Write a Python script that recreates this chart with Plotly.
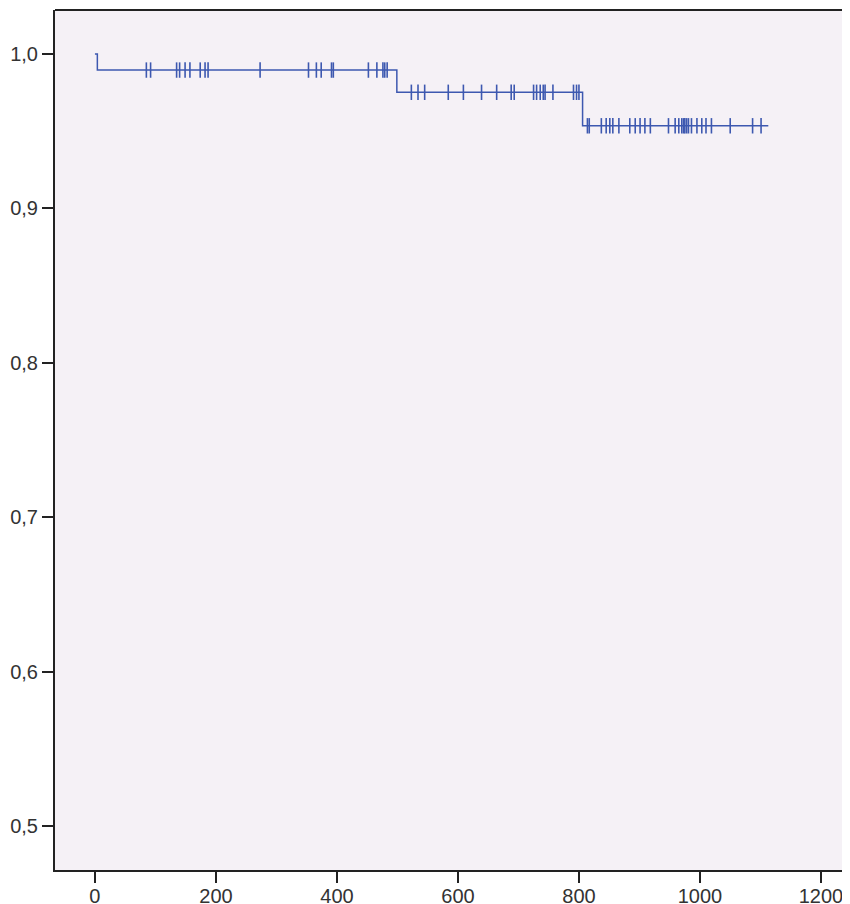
import plotly.graph_objects as go

# Kaplan-Meier step function
step_times = [0, 4, 499, 806, 1113]
step_surv = [1.0, 0.9896, 0.9752, 0.9535, 0.9535]

# censored observation times
censor_times = [85, 92, 135, 140, 149, 157, 174, 182, 187, 273,
                 353, 366, 374, 391, 394, 452, 466, 476, 479, 483,
                 523, 534, 545, 584, 609, 639, 664, 688, 693, 725, 730, 736, 741, 744, 757,
                 791, 796, 800,
                 814, 817, 837, 845, 851, 856, 866, 884, 893, 901, 909, 918,
                 948, 959, 965, 970, 973, 975, 978, 981, 986, 995, 1003, 1010, 1019,
                 1050, 1087, 1101]

x_tickvals = [0, 200, 400, 600, 800, 1000, 1200]
x_ticktext = ["0", "200", "400", "600", "800", "1000", "1200"]
y_tickvals = [0.5, 0.6, 0.7, 0.8, 0.9, 1.0]
y_ticktext = ["0,5", "0,6", "0,7", "0,8", "0,9", "1,0"]


def surv_at(t):
    s = step_surv[0]
    for tt, ss in zip(step_times, step_surv):
        if t >= tt:
            s = ss
    return s


censor_surv = [surv_at(t) for t in censor_times]

color = "#3d58b0"
fig = go.Figure()
fig.add_trace(go.Scatter(x=step_times, y=step_surv, mode="lines",
                         line=dict(shape="hv", color=color, width=1.5),
                         hoverinfo="skip"))
fig.add_trace(go.Scatter(x=censor_times, y=censor_surv, mode="markers",
                         marker=dict(symbol="line-ns", size=11,
                                     line=dict(color=color, width=1.6)),
                         hoverinfo="skip"))

axis_font = dict(family="Liberation Sans, Arial, sans-serif", size=20, color="#333333")
fig.update_layout(
    width=850, height=904,
    margin=dict(l=47, r=8, t=2, b=42),
    paper_bgcolor="white",
    plot_bgcolor="#f5f1f6",
    showlegend=False,
    xaxis=dict(range=[-66, 1248], tickvals=x_tickvals, ticktext=x_ticktext,
               automargin=False,
               showgrid=False, zeroline=False, showline=True, linecolor="#222222",
               linewidth=2, ticks="outside", ticklen=11, tickwidth=2,
               tickcolor="#222222", tickfont=axis_font, ticklabelstandoff=-4),
    yaxis=dict(range=[0.4715, 1.0285], tickvals=y_tickvals, ticktext=y_ticktext,
               automargin=False,
               showgrid=False, zeroline=False, showline=True, linecolor="#222222",
               linewidth=2, ticks="outside", ticklen=11, tickwidth=2,
               tickcolor="#222222", tickfont=axis_font),
    shapes=[dict(type="line", xref="paper", yref="paper", x0=0, x1=1, y0=1, y1=1,
                 line=dict(color="#222222", width=2))],
)
fig.write_html("out.html")
